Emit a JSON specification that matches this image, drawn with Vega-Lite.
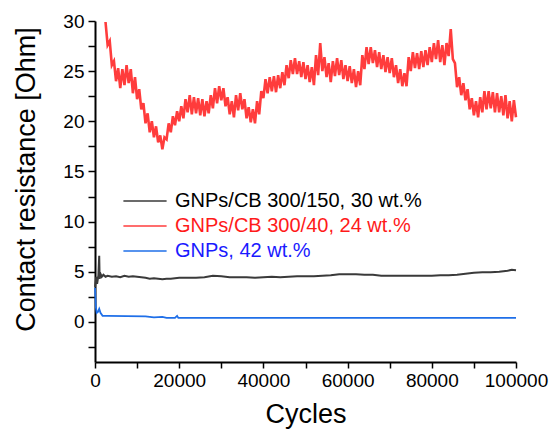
{
  "$schema": "https://vega.github.io/schema/vega-lite/v6.json",
  "autosize": {"type": "none"},
  "width": 421,
  "height": 341,
  "padding": {"left": 95, "top": 21, "right": 37, "bottom": 69},
  "config": {
    "view": {"stroke": null},
    "font": "Liberation Sans",
    "axis": {
      "grid": false,
      "domainColor": "#000000",
      "domainWidth": 2,
      "tickColor": "#000000",
      "tickWidth": 1.5,
      "tickSize": 6,
      "labelColor": "#000000",
      "labelFont": "Liberation Sans",
      "labelFontSize": 19,
      "titleFont": "Liberation Sans",
      "titleFontWeight": "normal",
      "titleColor": "#000000",
      "titleFontSize": 27
    }
  },
  "datasets": {
    "black": [
      {"c": 0, "r": 3.5}, {"c": 300, "r": 4.5}, {"c": 500, "r": 3.8}, {"c": 800, "r": 4.6}, {"c": 1000, "r": 6.6}, {"c": 1100, "r": 4.3}, {"c": 1300, "r": 4.8}, {"c": 1600, "r": 4.5}, {"c": 2000, "r": 4.7}, {"c": 2500, "r": 4.5}, {"c": 3000, "r": 4.6}, {"c": 4000, "r": 4.5}, {"c": 5000, "r": 4.55}, {"c": 6000, "r": 4.45}, {"c": 7000, "r": 4.6}, {"c": 8000, "r": 4.5}, {"c": 9000, "r": 4.55}, {"c": 10000, "r": 4.5}, {"c": 11000, "r": 4.45}, {"c": 12000, "r": 4.4}, {"c": 13000, "r": 4.3}, {"c": 14000, "r": 4.35}, {"c": 15000, "r": 4.3}, {"c": 16000, "r": 4.25}, {"c": 17000, "r": 4.3}, {"c": 18000, "r": 4.3}, {"c": 19000, "r": 4.35}, {"c": 20000, "r": 4.4}, {"c": 22000, "r": 4.4}, {"c": 24000, "r": 4.4}, {"c": 26000, "r": 4.45}, {"c": 28000, "r": 4.6}, {"c": 30000, "r": 4.55}, {"c": 32000, "r": 4.45}, {"c": 34000, "r": 4.45}, {"c": 36000, "r": 4.45}, {"c": 38000, "r": 4.4}, {"c": 40000, "r": 4.45}, {"c": 42000, "r": 4.5}, {"c": 44000, "r": 4.45}, {"c": 46000, "r": 4.5}, {"c": 48000, "r": 4.55}, {"c": 50000, "r": 4.55}, {"c": 52000, "r": 4.55}, {"c": 54000, "r": 4.6}, {"c": 56000, "r": 4.65}, {"c": 58000, "r": 4.75}, {"c": 60000, "r": 4.75}, {"c": 62000, "r": 4.75}, {"c": 64000, "r": 4.7}, {"c": 66000, "r": 4.7}, {"c": 68000, "r": 4.6}, {"c": 70000, "r": 4.6}, {"c": 72000, "r": 4.6}, {"c": 74000, "r": 4.6}, {"c": 76000, "r": 4.6}, {"c": 78000, "r": 4.6}, {"c": 80000, "r": 4.6}, {"c": 82000, "r": 4.65}, {"c": 84000, "r": 4.65}, {"c": 86000, "r": 4.7}, {"c": 88000, "r": 4.8}, {"c": 90000, "r": 4.9}, {"c": 92000, "r": 4.95}, {"c": 94000, "r": 4.95}, {"c": 96000, "r": 5.0}, {"c": 98000, "r": 5.1}, {"c": 99000, "r": 5.2}, {"c": 100000, "r": 5.15}
    ],
    "blue": [
      {"c": 0, "r": 3.4}, {"c": 200, "r": 1.5}, {"c": 400, "r": 0.9}, {"c": 700, "r": 1.0}, {"c": 1000, "r": 1.3}, {"c": 1300, "r": 0.9}, {"c": 1800, "r": 0.6}, {"c": 3000, "r": 0.6}, {"c": 12000, "r": 0.55}, {"c": 13000, "r": 0.5}, {"c": 14000, "r": 0.45}, {"c": 16000, "r": 0.5}, {"c": 17000, "r": 0.4}, {"c": 19000, "r": 0.4}, {"c": 19500, "r": 0.6}, {"c": 19800, "r": 0.4}, {"c": 30000, "r": 0.4}, {"c": 100000, "r": 0.4}
    ],
    "red": [
      {"c": 2500, "r": 29.9}, {"c": 3000, "r": 27.6}, {"c": 3500, "r": 28.0}, {"c": 4000, "r": 25.6}, {"c": 4500, "r": 26.0}, {"c": 5000, "r": 24.0}, {"c": 5500, "r": 25.3}, {"c": 6000, "r": 23.3}, {"c": 6500, "r": 25.2}, {"c": 7000, "r": 23.6}, {"c": 7500, "r": 25.6}, {"c": 8000, "r": 23.8}, {"c": 8500, "r": 25.2}, {"c": 9000, "r": 22.8}, {"c": 9500, "r": 24.4}, {"c": 10000, "r": 22.2}, {"c": 10500, "r": 23.2}, {"c": 11000, "r": 21.2}, {"c": 11500, "r": 21.8}, {"c": 12000, "r": 19.8}, {"c": 12500, "r": 20.8}, {"c": 13000, "r": 18.9}, {"c": 13500, "r": 20.0}, {"c": 14000, "r": 18.4}, {"c": 14500, "r": 19.5}, {"c": 15000, "r": 17.9}, {"c": 15500, "r": 18.6}, {"c": 16000, "r": 17.2}, {"c": 16500, "r": 18.4}, {"c": 17000, "r": 18.2}, {"c": 17500, "r": 19.8}, {"c": 18000, "r": 18.9}, {"c": 18500, "r": 20.5}, {"c": 19000, "r": 19.6}, {"c": 19500, "r": 21.0}, {"c": 20000, "r": 20.0}, {"c": 20500, "r": 21.5}, {"c": 21000, "r": 20.3}, {"c": 21500, "r": 22.2}, {"c": 22000, "r": 20.9}, {"c": 22500, "r": 22.6}, {"c": 23000, "r": 20.7}, {"c": 23500, "r": 22.4}, {"c": 24000, "r": 20.8}, {"c": 24500, "r": 22.3}, {"c": 25000, "r": 20.6}, {"c": 25500, "r": 22.2}, {"c": 26000, "r": 20.5}, {"c": 26500, "r": 22.0}, {"c": 27000, "r": 20.8}, {"c": 27500, "r": 22.6}, {"c": 28000, "r": 21.3}, {"c": 28500, "r": 23.3}, {"c": 29000, "r": 21.8}, {"c": 29500, "r": 23.5}, {"c": 30000, "r": 22.1}, {"c": 30500, "r": 23.3}, {"c": 31000, "r": 21.5}, {"c": 31500, "r": 22.4}, {"c": 32000, "r": 20.7}, {"c": 32500, "r": 22.0}, {"c": 33000, "r": 20.4}, {"c": 33500, "r": 22.6}, {"c": 34000, "r": 21.1}, {"c": 34500, "r": 22.8}, {"c": 35000, "r": 21.2}, {"c": 35500, "r": 22.2}, {"c": 36000, "r": 20.3}, {"c": 36500, "r": 21.4}, {"c": 37000, "r": 19.9}, {"c": 37500, "r": 21.2}, {"c": 38000, "r": 19.8}, {"c": 38500, "r": 22.0}, {"c": 39000, "r": 20.7}, {"c": 39500, "r": 23.0}, {"c": 40000, "r": 22.3}, {"c": 40500, "r": 24.2}, {"c": 41000, "r": 22.8}, {"c": 41500, "r": 24.4}, {"c": 42000, "r": 23.0}, {"c": 42500, "r": 24.5}, {"c": 43000, "r": 22.9}, {"c": 43500, "r": 24.6}, {"c": 44000, "r": 23.3}, {"c": 44500, "r": 24.9}, {"c": 45000, "r": 23.6}, {"c": 45500, "r": 25.6}, {"c": 46000, "r": 24.3}, {"c": 46500, "r": 26.1}, {"c": 47000, "r": 24.7}, {"c": 47500, "r": 26.3}, {"c": 48000, "r": 24.7}, {"c": 48500, "r": 26.0}, {"c": 49000, "r": 24.4}, {"c": 49500, "r": 25.9}, {"c": 50000, "r": 24.2}, {"c": 50500, "r": 25.6}, {"c": 51000, "r": 23.9}, {"c": 51500, "r": 25.4}, {"c": 52000, "r": 23.6}, {"c": 52500, "r": 26.6}, {"c": 53000, "r": 24.6}, {"c": 53500, "r": 27.8}, {"c": 54000, "r": 25.0}, {"c": 54500, "r": 26.4}, {"c": 55000, "r": 24.4}, {"c": 55500, "r": 25.8}, {"c": 56000, "r": 23.9}, {"c": 56500, "r": 26.0}, {"c": 57000, "r": 24.5}, {"c": 57500, "r": 26.3}, {"c": 58000, "r": 24.6}, {"c": 58500, "r": 26.1}, {"c": 59000, "r": 24.2}, {"c": 59500, "r": 25.6}, {"c": 60000, "r": 24.0}, {"c": 60500, "r": 25.5}, {"c": 61000, "r": 23.8}, {"c": 61500, "r": 25.2}, {"c": 62000, "r": 23.4}, {"c": 62500, "r": 25.0}, {"c": 63000, "r": 23.6}, {"c": 63500, "r": 26.6}, {"c": 64000, "r": 25.2}, {"c": 64500, "r": 27.4}, {"c": 65000, "r": 25.7}, {"c": 65500, "r": 27.4}, {"c": 66000, "r": 25.8}, {"c": 66500, "r": 27.1}, {"c": 67000, "r": 25.4}, {"c": 67500, "r": 26.9}, {"c": 68000, "r": 25.2}, {"c": 68500, "r": 26.6}, {"c": 69000, "r": 24.9}, {"c": 69500, "r": 26.4}, {"c": 70000, "r": 24.8}, {"c": 70500, "r": 26.3}, {"c": 71000, "r": 24.4}, {"c": 71500, "r": 25.6}, {"c": 72000, "r": 23.8}, {"c": 72500, "r": 25.2}, {"c": 73000, "r": 23.5}, {"c": 73500, "r": 24.8}, {"c": 74000, "r": 23.5}, {"c": 74500, "r": 26.4}, {"c": 75000, "r": 25.0}, {"c": 75500, "r": 26.9}, {"c": 76000, "r": 25.3}, {"c": 76500, "r": 26.8}, {"c": 77000, "r": 25.2}, {"c": 77500, "r": 27.0}, {"c": 78000, "r": 25.4}, {"c": 78500, "r": 27.1}, {"c": 79000, "r": 25.6}, {"c": 79500, "r": 27.4}, {"c": 80000, "r": 25.9}, {"c": 80500, "r": 27.8}, {"c": 81000, "r": 26.2}, {"c": 81500, "r": 28.1}, {"c": 82000, "r": 25.9}, {"c": 82500, "r": 27.6}, {"c": 83000, "r": 25.6}, {"c": 83500, "r": 27.8}, {"c": 84000, "r": 26.5}, {"c": 84500, "r": 29.2}, {"c": 85000, "r": 26.2}, {"c": 85500, "r": 25.8}, {"c": 86000, "r": 23.4}, {"c": 86500, "r": 24.4}, {"c": 87000, "r": 22.6}, {"c": 87500, "r": 23.8}, {"c": 88000, "r": 22.1}, {"c": 88500, "r": 23.2}, {"c": 89000, "r": 21.2}, {"c": 89500, "r": 22.3}, {"c": 90000, "r": 20.6}, {"c": 90500, "r": 22.0}, {"c": 91000, "r": 20.4}, {"c": 91500, "r": 22.4}, {"c": 92000, "r": 20.9}, {"c": 92500, "r": 23.0}, {"c": 93000, "r": 21.2}, {"c": 93500, "r": 23.0}, {"c": 94000, "r": 21.3}, {"c": 94500, "r": 22.9}, {"c": 95000, "r": 20.9}, {"c": 95500, "r": 22.8}, {"c": 96000, "r": 20.9}, {"c": 96500, "r": 22.5}, {"c": 97000, "r": 20.6}, {"c": 97500, "r": 22.6}, {"c": 98000, "r": 20.3}, {"c": 98500, "r": 22.0}, {"c": 99000, "r": 20.0}, {"c": 99500, "r": 22.1}, {"c": 100000, "r": 20.4}
    ]
  },
  "encoding": {
    "x": {
      "field": "c", "type": "quantitative",
      "scale": {"domain": [0, 100000], "nice": false},
      "axis": {
        "title": "Cycles",
        "values": [0, 10000, 20000, 30000, 40000, 50000, 60000, 70000, 80000, 90000, 100000],
        "format": "d",
        "labelExpr": "datum.value % 20000 === 0 ? datum.label : ''",
        "labelPadding": 3,
        "titlePadding": 11,
        "labelFlush": false,
        "labelOverlap": false
      }
    },
    "y": {
      "field": "r", "type": "quantitative",
      "scale": {"domain": [-4, 30], "nice": false, "zero": false},
      "axis": {
        "title": "Contact resistance [Ohm]",
        "values": [-2.5, 0, 2.5, 5, 7.5, 10, 12.5, 15, 17.5, 20, 22.5, 25, 27.5, 30],
        "labelExpr": "datum.value % 5 === 0 ? datum.label : ''",
        "tickSize": 7,
        "labelPadding": 4,
        "titlePadding": 22,
        "titleY": 158,
        "labelFlush": false,
        "labelOverlap": false
      }
    },
    "color": {
      "type": "nominal",
      "scale": {
        "domain": ["GNPs/CB 300/150, 30 wt.%", "GNPs/CB 300/40, 24 wt.%", "GNPs,  42 wt.%"],
        "range": ["#3a3a3a", "#ff3c3c", "#1f6fe8"]
      },
      "legend": {
        "title": null,
        "orient": "none",
        "legendX": 37,
        "legendY": 167,
        "padding": 0,
        "symbolType": "M-1.8,0H1.8",
        "symbolSize": 576,
        "symbolStrokeWidth": 1.3,
        "symbolFillColor": "transparent",
        "labelFontSize": 20,
        "labelFont": "Liberation Sans",
        "labelOffset": 17,
        "labelLimit": 400,
        "rowPadding": 2,
        "encode": {
          "labels": {
            "update": {
              "fill": {"signal": "datum.value === 'GNPs/CB 300/40, 24 wt.%' ? '#ff1a1a' : datum.value === 'GNPs,  42 wt.%' ? '#1a1aff' : '#000000'"}
            }
          }
        }
      }
    }
  },
  "layer": [
    {"data": {"name": "blue"}, "mark": {"type": "line", "strokeWidth": 1.8}, "encoding": {"color": {"datum": "GNPs,  42 wt.%"}}},
    {"data": {"name": "black"}, "mark": {"type": "line", "strokeWidth": 2}, "encoding": {"color": {"datum": "GNPs/CB 300/150, 30 wt.%"}}},
    {"data": {"name": "red"}, "mark": {"type": "line", "strokeWidth": 2.6}, "encoding": {"color": {"datum": "GNPs/CB 300/40, 24 wt.%"}}}
  ]
}
